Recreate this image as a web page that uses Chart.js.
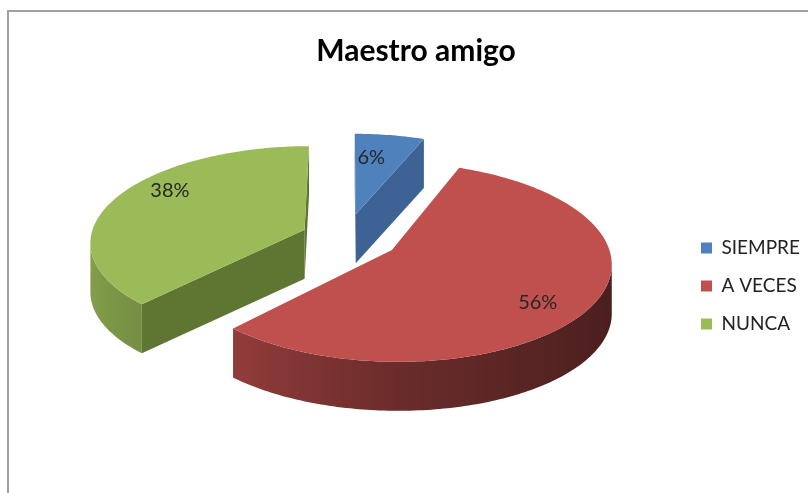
<!DOCTYPE html>
<html>
<head>
<meta charset="utf-8">
<script src="https://cdn.jsdelivr.net/npm/chart.js@4.4.1/dist/chart.umd.min.js"></script>
<style>
  html, body { margin: 0; padding: 0; background: #fff; }
  #wrap { position: relative; width: 808px; height: 493px; overflow: hidden; }
  #frame { position: absolute; left: 7px; top: 10px; right: -10px; bottom: -10px;
           border-top: 2px solid #a0a0a0; border-left: 2px solid #a0a0a0; }
  canvas { position: absolute; left: 0; top: 0; }
</style>
</head>
<body>
<div id="wrap"><div id="frame"></div><canvas id="pieChart" width="808" height="493"></canvas></div>
<script>
const categories = ['SIEMPRE', 'A VECES', 'NUNCA'];
const percents = [6, 56, 38];

const topColors = ['#4f81bd', '#c0504d', '#9bbb59'];
const faceColors = ['#3c6393', '#8c3634', '#5f7532'];
const explode = [0.25, 0.25, 0.21];
const labelNudge = [[-9, 0], [9, 14], [-2, -16]];

// tilted view used to fake the 3d look
const view = { cx: 346, cy: 237, scale: 214, tilt: 26.4 * Math.PI / 180, dist: 7.5, depth: 49 };

function project(X, Z) {
    const w = 1 + Z * Math.cos(view.tilt) / view.dist;
    return { x: view.cx + view.scale * X / w, y: view.cy - view.scale * Math.sin(view.tilt) * Z / w };
}

function shade(hex, f) {
    const n = parseInt(hex.slice(1), 16);
    const r = Math.round(((n >> 16) & 255) * f);
    const g = Math.round(((n >> 8) & 255) * f);
    const b = Math.round((n & 255) * f);
    return 'rgb(' + r + ',' + g + ',' + b + ')';
}

// light coming from the front left
function wallLight(t) {
    const s = Math.sin(t);
    return s < 0 ? 0.55 - 0.3 * s : 0.55 - 0.17 * s;
}

function drawFace(ctx, p, q, color) {
    const d = view.depth;
    ctx.beginPath();
    ctx.moveTo(p.x, p.y);
    ctx.lineTo(q.x, q.y);
    ctx.lineTo(q.x, q.y + d);
    ctx.lineTo(p.x, p.y + d);
    ctx.closePath();
    ctx.fillStyle = color;
    ctx.fill();
}

function drawWall(ctx, run, base) {
    if (run.length < 2) return;
    const d = view.depth;
    ctx.beginPath();
    ctx.moveTo(run[0].x, run[0].y);
    run.forEach(p => ctx.lineTo(p.x, p.y));
    for (let k = run.length - 1; k >= 0; k--) ctx.lineTo(run[k].x, run[k].y + d);
    ctx.closePath();
    const x0 = run[0].x, x1 = run[run.length - 1].x;
    const grad = ctx.createLinearGradient(x0, 0, x1, 0);
    run.forEach(p => {
        const pos = Math.min(1, Math.max(0, (x0 - p.x) / (x0 - x1)));
        grad.addColorStop(pos, shade(base, wallLight(p.t)));
    });
    ctx.fillStyle = grad;
    ctx.fill();
}

function drawSlice(ctx, s) {
    const rim = s.rim, apex = s.apex;
    const first = rim[0], last = rim[rim.length - 1];
    // cut faces that turn toward us
    if (first.x < apex.x - 0.5) drawFace(ctx, apex, first, faceColors[s.i]);
    if (apex.x < last.x - 0.5) drawFace(ctx, last, apex, faceColors[s.i]);
    // round wall, only the front part
    let run = [];
    for (let k = 0; k < rim.length - 1; k++) {
        if (rim[k + 1].x < rim[k].x) {
            if (!run.length) run.push(rim[k]);
            run.push(rim[k + 1]);
        } else {
            drawWall(ctx, run, topColors[s.i]);
            run = [];
        }
    }
    drawWall(ctx, run, topColors[s.i]);
    // top
    ctx.beginPath();
    ctx.moveTo(apex.x, apex.y);
    rim.forEach(p => ctx.lineTo(p.x, p.y));
    ctx.closePath();
    ctx.fillStyle = topColors[s.i];
    ctx.fill();
}

const pie3d = {
    id: 'pie3d',
    beforeDatasetsDraw(chart) {
        const ctx = chart.ctx;
        const meta = chart.getDatasetMeta(0);
        const total = percents.reduce((a, b) => a + b, 0);
        const slices = meta.data.map((arc, i) => {
            const t1 = arc.startAngle + Math.PI / 2;
            const t2 = arc.endAngle + Math.PI / 2;
            const mid = (t1 + t2) / 2;
            const ox = explode[i] * Math.sin(mid);
            const oz = explode[i] * Math.cos(mid);
            const pt = (r, t) => Object.assign(project(ox + r * Math.sin(t), oz + r * Math.cos(t)), { t: t });
            const n = Math.max(2, Math.ceil((t2 - t1) / (Math.PI / 180)));
            const rim = [];
            for (let k = 0; k <= n; k++) rim.push(pt(1, t1 + (t2 - t1) * k / n));
            return { i: i, apex: pt(0, mid), rim: rim, label: pt(0.7, mid) };
        });

        ctx.save();
        slices.slice().sort((a, b) => a.apex.y - b.apex.y).forEach(s => drawSlice(ctx, s));

        ctx.font = '20px Lato';
        ctx.fillStyle = '#262626';
        ctx.textAlign = 'center';
        ctx.textBaseline = 'middle';
        slices.forEach(s => {
            const pct = Math.round(percents[s.i] / total * 100) + '%';
            ctx.fillText(pct, s.label.x + labelNudge[s.i][0], s.label.y + labelNudge[s.i][1]);
        });
        ctx.restore();
        return false;
    }
};

new Chart(document.getElementById('pieChart'), {
    type: 'pie',
    data: {
        labels: categories,
        datasets: [{
            data: percents,
            backgroundColor: topColors,
            borderWidth: 0
        }]
    },
    options: {
        responsive: false,
        animation: false,
        layout: { padding: { top: 23, left: 22, right: -2, bottom: 0 } },
        plugins: {
            title: {
                display: true,
                text: 'Maestro amigo',
                color: '#000',
                padding: { top: 10, bottom: 10 },
                font: { family: 'Lato', size: 30, weight: 'bold' }
            },
            legend: {
                position: 'right',
                fullSize: false,
                labels: {
                    boxWidth: 11,
                    boxHeight: 11,
                    padding: 19,
                    color: '#222',
                    font: { family: 'Lato', size: 19 }
                }
            },
            tooltip: { enabled: false }
        }
    },
    plugins: [pie3d]
});
</script>
</body>
</html>
